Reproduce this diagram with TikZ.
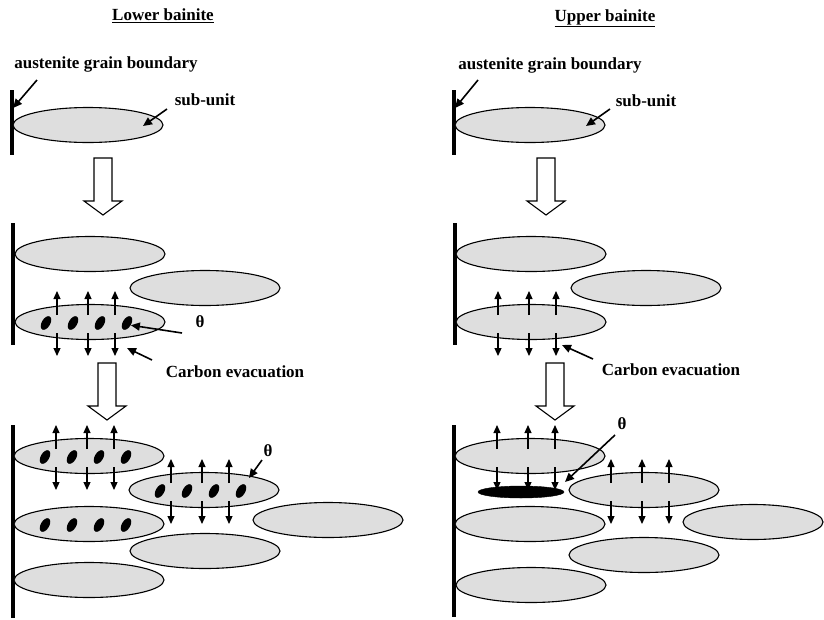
\documentclass[tikz,border=0pt]{standalone}
\usepackage{fontspec}
\setmainfont{Liberation Serif}
\usetikzlibrary{shapes.geometric,arrows.meta,calc}
\begin{document}
\begin{tikzpicture}[x=1pt,y=-1pt,
  grain/.style={ellipse,draw=black,line width=1.1pt,fill=black!13,minimum width=150pt,minimum height=35pt,inner sep=0pt},
  carb/.style={ellipse,fill=black,minimum width=8.5pt,minimum height=15pt,inner sep=0pt,rotate=-30},
  bigcarb/.style={ellipse,fill=black,draw=black,minimum width=86pt,minimum height=12pt,inner sep=0pt},
  lbl/.style={font=\bfseries\fontsize{17}{20}\selectfont,inner sep=0pt},
  ptr/.style={-{Triangle[length=9pt,width=8pt]},line width=1.6pt},
  flux/.style={-{Triangle[length=8pt,width=7pt]},line width=1.2pt},
  gb/.style={line width=3.5pt},
  blk/.style={draw=black,line width=1.1pt,fill=white,line join=miter}
]
\useasboundingbox (0,0) rectangle (824,619);

\newcommand{\fluxarrows}[1]{%
  \foreach \dx in {-33,-2,25}{%
    \draw[flux] ($(#1)+(\dx,-7)$) -- ($(#1)+(\dx,-31)$);
    \draw[flux] ($(#1)+(\dx,11)$) -- ($(#1)+(\dx,34)$);
  }}
\newcommand{\carbides}[1]{%
  \foreach \dx [count=\i] in {-44,-17,10,37}{%
    \node[carb] (#1p\i) at ($(#1)+(\dx,1)$) {};
  }}
\newcommand{\blockarrow}[3]{% center x, top y, tip y
  \draw[blk] (#1-9,#2) -- (#1+9,#2) -- (#1+9,#3-14) -- (#1+19,#3-14) -- (#1,#3) -- (#1-19,#3-14) -- (#1-9,#3-14) -- cycle;}

% ================= LEFT: Lower bainite =================
\node[lbl] (tL) at (163,16) {\underline{Lower bainite}};
\node[lbl] (agbL) at (106,64) {austenite grain boundary};
\draw[gb] (12,90) coordinate (bL1a) -- (12,155) coordinate (bL1b);
\node[grain] (L0) at (88,125) {};
\coordinate (agbLs) at (37,80);
\draw[ptr] (agbLs) -- (13,108);
\node[lbl] (suL) at (205,100) {sub-unit};
\coordinate (suLs) at (167,109);
\coordinate (suLe) at (143,126);
\draw[ptr] (suLs) -- (suLe);

\blockarrow{103}{158}{215}

% middle
\draw[gb] (13,223) -- (13,345);
\node[grain] (LA) at (90,254) {};
\node[grain] (LB) at (205,288) {};
\node[grain] (LC) at (90,322) {};
\carbides{LC}
\fluxarrows{LC}
\node[lbl] (thL1) at (200,322) {θ};
\coordinate (thL1s) at (182,333);
\draw[ptr] (thL1s) -- (LCp4.east);
\node[lbl] (ceL) at (235,372) {Carbon evacuation};
\coordinate (ceLs) at (152,360);
\coordinate (ceLe) at (127,348);
\draw[ptr] (ceLs) -- (ceLe);

\blockarrow{107}{363}{420}

% bottom
\draw[gb] (13,425) -- (13,618);
\node[grain] (L1) at (89,456) {};
\node[grain] (L2) at (204,490) {};
\node[grain] (L3) at (89,524) {};
\node[grain] (L4) at (328,520) {};
\node[grain] (L5) at (205,551) {};
\node[grain] (L6) at (89,580) {};
\carbides{L1}
\carbides{L2}
\carbides{L3}
\fluxarrows{L1}
\fluxarrows{L2}
\node[lbl] (thL2) at (268,451) {θ};
\coordinate (thL2s) at (262,460);
\draw[ptr] (thL2s) -- (249,478);

% ================= RIGHT: Upper bainite =================
\node[lbl] (tR) at (605,18) {\underline{Upper bainite}};
\node[lbl] (agbR) at (550,65) {austenite grain boundary};
\draw[gb] (454,90) -- (454,155);
\node[grain] (R0) at (530,125) {};
\coordinate (agbRs) at (478,80);
\draw[ptr] (agbRs) -- (455,108);
\node[lbl] (suR) at (646,101) {sub-unit};
\coordinate (suRs) at (610,109);
\draw[ptr] (suRs) -- (586,126);

\blockarrow{546}{158}{215}

% middle
\draw[gb] (455,223) -- (455,345);
\node[grain] (RA) at (531,254) {};
\node[grain] (RB) at (646,288) {};
\node[grain] (RC) at (531,322) {};
\fluxarrows{RC}
\node[lbl] (ceR) at (671,370) {Carbon evacuation};
\coordinate (ceRs) at (593,359);
\draw[ptr] (ceRs) -- (562,345);

\blockarrow{555}{363}{420}

% bottom
\draw[gb] (454,425) -- (454,617);
\node[grain] (R1) at (530,456) {};
\node[bigcarb] (Rc) at (521,492) {};
\node[grain] (R2) at (644,490) {};
\node[grain] (R3) at (530,524) {};
\node[grain,minimum width=140pt] (R4) at (753,522) {};
\node[grain] (R5) at (644,555) {};
\node[grain] (R6) at (531,585) {};
\fluxarrows{R1}
\fluxarrows{R2}
\node[lbl] (thR) at (622,424) {θ};
\coordinate (thRs) at (615,435);
\draw[ptr] (thRs) -- (565,482);
\end{tikzpicture}
\end{document}
